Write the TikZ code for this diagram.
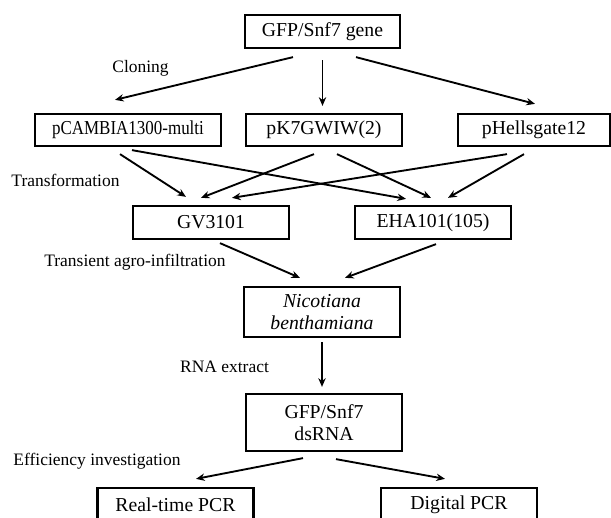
\documentclass[tikz,border=0pt]{standalone}
\usepackage{fontspec}
\setmainfont{Liberation Serif}
\usepackage{graphicx}
\usetikzlibrary{arrows.meta}
\newcommand\boxfont{\fontsize{14.8pt}{16.5pt}\selectfont}
\newcommand\lblfont{\fontsize{13.1pt}{15pt}\selectfont}
\begin{document}
\begin{tikzpicture}[x=0.75pt,y=-0.75pt]
\tikzset{box/.style={draw,line width=1.7pt,inner sep=0pt,minimum width=117pt,minimum height=24.75pt,align=center,font=\boxfont}}
\tikzset{lbl/.style={font=\lblfont}}
\tikzset{arr/.style={-{Stealth[length=6.5pt,width=5.5pt]},line width=1.4pt}}
\useasboundingbox (0,0) rectangle (611,518);
\clip (0,0) rectangle (611,518);
\node[box,minimum width=116.25pt] (gene) at (322.5,31.5) {GFP/Snf7 gene};
\node[box,minimum width=139.5pt,minimum height=24pt] (pcam) at (128,130) {\scalebox{0.86}[1]{pCAMBIA1300-multi}};
\node[box,minimum height=24pt] (pk7) at (324,130) {pK7GWIW(2)};
\node[box,minimum width=114pt,minimum height=24pt] (phell) at (534,130) {pHellsgate12};
\node[box] (gv) at (211,222.5) {GV3101};
\node[box] (eha) at (433,222.5) {EHA101(105)};
\node[box,minimum height=37.5pt] (nic) at (322,312) {\itshape Nicotiana\\\itshape benthamiana};
\node[box,minimum height=42.75pt] (ds) at (324,422.5) {GFP/Snf7\\dsRNA};
\node[box] (rt) at (175.5,504.5) {Real-time PCR};
\node[box] (dig) at (459,504.5) {Digital PCR};
%labels
\node[lbl] (clon) at (140.5,68) {Cloning};
\node[lbl] (trans) at (65.5,180) {Transformation};
\node[lbl] (infil) at (135,262) {Transient agro-infiltration};
\node[lbl] (rna) at (224.5,367) {RNA extract};
\node[lbl] (eff) at (97,461) {Efficiency investigation};
%arrows
\draw[arr] ([shift={(-29.5,8)}]gene.south) -- ([shift={(-13,-13)}]pcam.north);
\draw[arr] ([shift={(0,11)}]gene.south) -- ([shift={(-1.5,-7)}]pk7.north);
\draw[arr] ([shift={(33.5,8)}]gene.south) -- ([shift={(1,-9)}]phell.north);
\draw[arr] ([shift={(-8,7)}]pcam.south) -- ([shift={(-25,-8)}]gv.north);
\draw[arr] ([shift={(4,3)}]pcam.south) -- ([shift={(-27,-6)}]eha.north);
\draw[arr] ([shift={(-10,7)}]pk7.south) -- ([shift={(-10,-7)}]gv.north);
\draw[arr] ([shift={(13,7)}]pk7.south) -- ([shift={(-2,-7)}]eha.north);
\draw[arr] ([shift={(-27,7)}]phell.south) -- ([shift={(21,-7)}]gv.north);
\draw[arr] ([shift={(-10,7)}]phell.south) -- ([shift={(15,-7)}]eha.north);
\draw[arr] ([shift={(9,3)}]gv.south) -- ([shift={(-22,-8)}]nic.north);
\draw[arr] ([shift={(3,4)}]eha.south) -- ([shift={(23,-8)}]nic.north);
\draw[arr] ([shift={(0,4)}]nic.south) -- ([shift={(-2,-6)}]ds.north);
\draw[arr] ([shift={(-21,6)}]ds.south) -- ([shift={(20.5,-8)}]rt.north);
\draw[arr] ([shift={(12,7)}]ds.south) -- ([shift={(-14,-8)}]dig.north);
\end{tikzpicture}
\end{document}
